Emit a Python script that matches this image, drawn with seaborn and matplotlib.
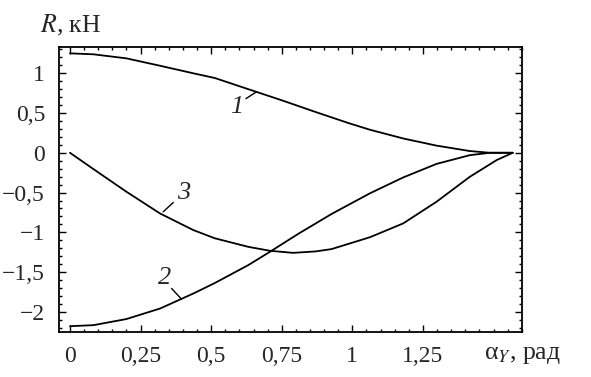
import numpy as np
import pandas as pd
import seaborn as sns
import matplotlib.pyplot as plt
from matplotlib.ticker import MultipleLocator

# значения
x1 = [0, 0.083, 0.2, 0.319, 0.437, 0.513, 0.631, 0.75, 0.868, 0.985, 1.062, 1.18, 1.298, 1.416, 1.487, 1.568]
r1 = [1.25, 1.238, 1.187, 1.094, 0.999, 0.94, 0.80, 0.66, 0.515, 0.375, 0.29, 0.18, 0.09, 0.022, 0.0, 0.0]

x2 = [0, 0.083, 0.2, 0.319, 0.437, 0.513, 0.631, 0.708, 0.808, 0.926, 1.062, 1.18, 1.298, 1.416, 1.487, 1.568]
r2 = [-2.18, -2.167, -2.09, -1.958, -1.769, -1.637, -1.413, -1.245, -1.02, -0.77, -0.51, -0.31, -0.14, -0.03, 0, 0]

x3 = [0, 0.083, 0.2, 0.319, 0.437, 0.513, 0.631, 0.708, 0.79, 0.87, 0.926, 1.062, 1.18, 1.298, 1.416, 1.511, 1.568]
r3 = [0, -0.205, -0.49, -0.763, -0.972, -1.075, -1.182, -1.232, -1.258, -1.24, -1.211, -1.062, -0.888, -0.616, -0.302, -0.092, 0]

xticks = [0, 0.25, 0.5, 0.75, 1, 1.25]
xticklabels = ['0', '0,25', '0,5', '0,75', '1', '1,25']
yticks = [-2, -1.5, -1, -0.5, 0, 0.5, 1]
yticklabels = ['\u22122', '\u22121,5', '\u22121', '\u22120,5', '0', '0,5', '1']

# подписи кривых: (номер, позиция текста, выноска)
curve_labels = [('1', (0.59, 0.58), (0.623, 0.68), (0.662, 0.77)),
                ('3', (0.401, -0.51), (0.33, -0.742), (0.366, -0.624)),
                ('2', (0.336, -1.58), (0.36, -1.706), (0.395, -1.84))]

sns.set_style('ticks')
plt.rcParams['font.family'] = ['Liberation Serif', 'DejaVu Serif']
plt.rcParams['mathtext.fontset'] = 'stix'

fig = plt.figure(figsize=(5.91, 3.77), dpi=100)
ax = fig.add_axes([0.0998, 0.120, 0.7840, 0.756])

for xs, rs in [(x1, r1), (x2, r2), (x3, r3)]:
    df = pd.DataFrame({'x': xs, 'r': rs})
    sns.lineplot(data=df, x='x', y='r', ax=ax, color='black', lw=1.3)

ax.set_xlim(-0.039, 1.602)
ax.set_ylim(-2.25, 1.333)
ax.set_xticks(xticks)
ax.set_xticklabels(xticklabels)
ax.set_yticks(yticks)
ax.set_yticklabels(yticklabels)
ax.xaxis.set_minor_locator(MultipleLocator(0.05))
ax.yaxis.set_minor_locator(MultipleLocator(0.1))
ax.tick_params(which='both', direction='in', top=True, right=True,
               labelsize=17, color='black', width=1.0)
ax.tick_params(which='major', length=5, pad=10)
ax.tick_params(which='minor', length=2.5)
for s in ax.spines.values():
    s.set_linewidth(1.3)
    s.set_color('black')
ax.set_xlabel('')
ax.set_ylabel('')

for name, tpos, p0, p1 in curve_labels:
    ax.plot([p0[0], p1[0]], [p0[1], p1[1]], color='black', lw=1.0)
    ax.text(tpos[0], tpos[1], name, fontsize=19, style='italic',
            ha='center', va='center')

ax.text(0.026, 1.073, '$R$, кН', transform=ax.transAxes, fontsize=18.5,
        ha='center', va='center')
ax.text(1.0, -0.082, '\u03b1$_{Y}$, рад', transform=ax.transAxes, fontsize=18.5,
        ha='center', va='center')

fig.savefig('out.png', dpi=100)
